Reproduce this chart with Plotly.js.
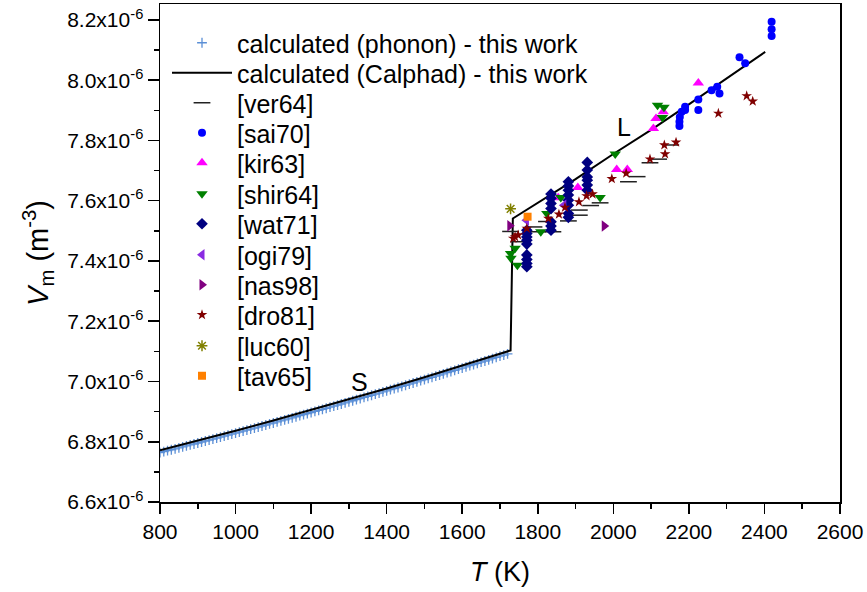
<!DOCTYPE html>
<html><head><meta charset="utf-8">
<script src="https://cdn.plot.ly/plotly-3.0.1.min.js"></script>
<style>html,body{margin:0;padding:0;background:#fff}#chart{width:867px;height:592px}</style>
</head><body><div id="chart"></div>
<script>
// Molar volume values in units of 1e-6 m^3, temperatures in K
const T_phonon = [800,810,820,830,840,850,860,870,880,890,900,910,920,930,940,950,960,970,980,990,
  1000,1010,1020,1030,1040,1050,1060,1070,1080,1090,1100,1110,1120,1130,1140,1150,1160,1170,1180,1190,
  1200,1210,1220,1230,1240,1250,1260,1270,1280,1290,1300,1310,1320,1330,1340,1350,1360,1370,1380,1390,
  1400,1410,1420,1430,1440,1450,1460,1470,1480,1490,1500,1510,1520,1530,1540,1550,1560,1570,1580,1590,
  1600,1610,1620,1630,1640,1650,1660,1670,1680,1690,1700,1710,1720];
const V_phonon = [6.7640,6.7671,6.7703,6.7735,6.7766,6.7798,6.7830,6.7862,6.7894,6.7926,6.7959,6.7991,6.8024,6.8056,6.8089,6.8121,6.8154,6.8187,6.8220,6.8253,
  6.8286,6.8320,6.8353,6.8387,6.8420,6.8454,6.8488,6.8522,6.8556,6.8590,6.8623,6.8658,6.8692,6.8726,6.8761,6.8795,6.8830,6.8865,6.8900,6.8935,
  6.8970,6.9005,6.9040,6.9075,6.9111,6.9146,6.9182,6.9217,6.9253,6.9289,6.9325,6.9361,6.9397,6.9433,6.9470,6.9506,6.9543,6.9579,6.9616,6.9653,
  6.9690,6.9727,6.9764,6.9801,6.9838,6.9875,6.9913,6.9950,6.9988,7.0026,7.0063,7.0101,7.0139,7.0177,7.0216,7.0254,7.0292,7.0331,7.0369,7.0408,
  7.0446,7.0485,7.0524,7.0563,7.0602,7.0641,7.0681,7.0720,7.0759,7.0799,7.0839,7.0878,7.0918];
const T_calphad = [800,900,1000,1100,1200,1300,1400,1500,1600,1700,1728,1734,1900,2000,2100,2200,2300,2402];
const V_calphad = [6.772,6.8039,6.8366,6.8703,6.9050,6.9405,6.9770,7.0143,7.0526,7.0919,7.1030,7.541,7.672,7.755,7.835,7.920,8.005,8.094];

const T_ver64 = [1728,1750,1790,1800,1823,1840,1881,1910,1910,1940,1965,2040,2063,2097,2120,2152];
const V_ver64 = [7.498,7.464,7.513,7.497,7.531,7.497,7.533,7.552,7.569,7.584,7.593,7.663,7.680,7.726,7.738,7.785];
const T_sai70 = [2419,2419,2419,2334,2349,2260,2275,2281,2225,2225,2190,2190,2181,2176,2175,2175];
const V_sai70 = [8.194,8.169,8.147,8.076,8.056,7.967,7.978,7.956,7.936,7.901,7.912,7.901,7.895,7.878,7.862,7.848];
const T_kir63 = [1854,1906,2009,2037,2106,2113,2132,2225];
const V_kir63 = [7.610,7.644,7.704,7.704,7.840,7.873,7.895,7.991];
const T_shir64 = [1728,1729,1740,1746,1808,1824,1861,1965,2005,2117,2130,2134];
const V_shir64 = [7.425,7.409,7.442,7.386,7.497,7.558,7.611,7.611,7.755,7.917,7.876,7.910];
const T_wat71 = [1771,1771,1771,1771,1771,1771,1771,1771,1771,
  1835,1835,1835,1835,1835,1835,1835,
  1881,1881,1881,1881,1881,1881,1881,1881,
  1931,1931,1931,1931,1931,1931];
const V_wat71 = [7.502,7.491,7.480,7.469,7.456,7.420,7.405,7.392,7.381,
  7.622,7.608,7.591,7.574,7.530,7.516,7.502,
  7.663,7.649,7.635,7.619,7.602,7.585,7.558,7.545,
  7.727,7.702,7.679,7.668,7.652,7.635];
const T_ogi79 = [1770,1869];
const V_ogi79 = [7.535,7.585];
const T_nas98 = [1726,1976];
const V_nas98 = [7.517,7.516];
const T_dro81 = [1735,1740,1748,1771,1828,1856,1872,1909,1929,1945,1996,2034,2097,2135,2137,2166,2278,2353,2369];
const V_dro81 = [7.475,7.480,7.486,7.508,7.541,7.555,7.578,7.596,7.616,7.622,7.673,7.691,7.738,7.785,7.755,7.794,7.890,7.948,7.930];
const T_luc60 = [1728];
const V_luc60 = [7.573];
const T_tav65 = [1773];
const V_tav65 = [7.547];

const yTickVals = [6.6,6.8,7.0,7.2,7.4,7.6,7.8,8.0,8.2];
const yTickText = yTickVals.map(v => v.toFixed(1) + 'x10<sup>-6</sup>');
const xTickVals = [800,1000,1200,1400,1600,1800,2000,2200,2400,2600];

const FONT = 'Liberation Sans, Arial, sans-serif';

const traces = [
  {name:'calculated (phonon) - this work', x:T_phonon, y:V_phonon, mode:'markers',
   marker:{symbol:'cross-thin', size:7, color:'#5b8fd6', line:{width:1.3, color:'#5b8fd6'}}},
  {name:'calculated (Calphad) - this work', x:T_calphad, y:V_calphad, mode:'lines',
   line:{color:'#000', width:2}},
  {name:'[ver64]', x:T_ver64, y:V_ver64, mode:'markers',
   marker:{symbol:'line-ew', size:12, color:'#222', line:{width:1.5, color:'#222'}}},
  {name:'[sai70]', x:T_sai70, y:V_sai70, mode:'markers',
   marker:{symbol:'circle', size:8, color:'#0000ff'}},
  {name:'[kir63]', x:T_kir63, y:V_kir63, mode:'markers',
   marker:{symbol:'triangle-up', size:10, color:'#ff00ff'}},
  {name:'[shir64]', x:T_shir64, y:V_shir64, mode:'markers',
   marker:{symbol:'triangle-down', size:10, color:'#008000'}},
  {name:'[wat71]', x:T_wat71, y:V_wat71, mode:'markers',
   marker:{symbol:'diamond', size:9, color:'#000080'}},
  {name:'[ogi79]', x:T_ogi79, y:V_ogi79, mode:'markers',
   marker:{symbol:'triangle-left', size:10, color:'#8a2be2'}},
  {name:'[nas98]', x:T_nas98, y:V_nas98, mode:'markers',
   marker:{symbol:'triangle-right', size:10, color:'#800080'}},
  {name:'[dro81]', x:T_dro81, y:V_dro81, mode:'markers',
   marker:{symbol:'star', size:8, color:'#800000'}},
  {name:'[luc60]', x:T_luc60, y:V_luc60, mode:'markers',
   marker:{symbol:'asterisk-open', size:9, color:'#808000', line:{width:1.5, color:'#808000'}}},
  {name:'[tav65]', x:T_tav65, y:V_tav65, mode:'markers',
   marker:{symbol:'square', size:8, color:'#ff8000'}}
];

const rowY = [43,73,103,133,163,194,224,255,285,315,346,376];
const plotTop = 4, plotBottom = 502;
const layout = {
  width:867, height:592,
  margin:{l:160, r:27, t:4, b:90},
  paper_bgcolor:'#fff', plot_bgcolor:'#fff',
  font:{family:FONT, color:'#000', size:21},
  showlegend:true,
  xaxis:{range:[800,2600], tickmode:'array', tickvals:xTickVals, ticks:'outside', ticklen:10, tickwidth:1.5,
    tickcolor:'#000', showgrid:false, zeroline:false, showline:true, linewidth:1.5, linecolor:'#000', mirror:true,
    tickfont:{size:21, family:FONT}, automargin:false,
    minor:{ticks:'outside', ticklen:5, tickwidth:1.5, tickcolor:'#000', tickvals:[900,1100,1300,1500,1700,1900,2100,2300,2500], showgrid:false},
    title:{text:'<i>T</i> (K)', font:{size:27, family:FONT}, standoff:20}},
  yaxis:{range:[6.6,8.253], tickmode:'array', tickvals:yTickVals, ticktext:yTickText, ticks:'outside', ticklen:11, tickwidth:1.5,
    tickcolor:'#000', showgrid:false, zeroline:false, showline:true, linewidth:1.5, linecolor:'#000', mirror:true,
    tickfont:{size:21, family:FONT}, automargin:false,
    minor:{ticks:'outside', ticklen:5, tickwidth:1.5, tickcolor:'#000', tickvals:[6.7,6.9,7.1,7.3,7.5,7.7,7.9,8.1], showgrid:false},
    title:{text:'<i>V</i><sub>m</sub> (m<sup>-3</sup>)', font:{size:29, family:FONT}, standoff:10}},
  annotations:[
    {x:1329, y:6.998, xref:'x', yref:'y', text:'S', showarrow:false, font:{size:25, family:FONT}},
    {x:2027, y:7.845, xref:'x', yref:'y', text:'L', showarrow:false, font:{size:25, family:FONT}}
  ]
};
traces.forEach((t, i) => {
  const key = i === 0 ? 'legend' : 'legend' + (i + 1);
  t.legend = key;
  layout[key] = {x:(167-160)/680, xanchor:'left', y:(plotBottom - rowY[i])/(plotBottom - plotTop), yanchor:'middle',
    bgcolor:'rgba(0,0,0,0)', borderwidth:0, itemwidth:60, font:{size:25, family:FONT}};
});
Plotly.newPlot('chart', traces, layout, {displayModeBar:false, staticPlot:true});
</script></body></html>
